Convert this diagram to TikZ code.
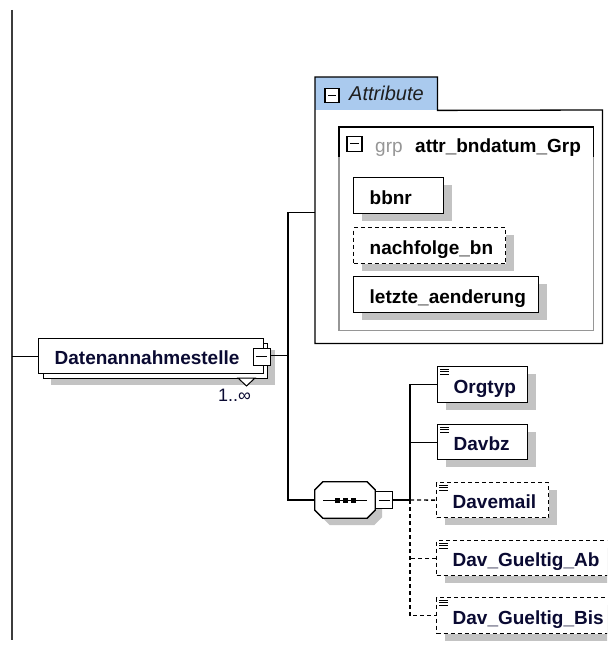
\documentclass[tikz,border=0pt]{standalone}
\usepackage{fontspec}
\setmainfont{Liberation Sans}
\usetikzlibrary{shadows,calc}
\hyphenpenalty=10000
\exhyphenpenalty=10000
\definecolor{shadowgray}{RGB}{195,195,195}
\definecolor{tabblue}{RGB}{170,202,238}
\definecolor{elemtext}{RGB}{10,10,50}
\definecolor{grpgray}{RGB}{150,150,150}
\definecolor{innergray}{RGB}{150,150,150}
\definecolor{railgray}{RGB}{60,60,60}
\newcommand\txticon[1]{%
  \draw[line width=0.9pt] ([xshift=3pt,yshift=-3pt]#1.north west) -- ++(9pt,0pt);
  \draw[line width=0.9pt] ([xshift=3pt,yshift=-5.5pt]#1.north west) -- ++(9pt,0pt);
  \draw[line width=0.9pt] ([xshift=3pt,yshift=-8pt]#1.north west) -- ++(9pt,0pt);}
\begin{document}
\begin{tikzpicture}[x=1pt,y=-1pt,
  namefont/.style={font=\bfseries\fontsize{19}{22}\selectfont},
  shad/.style={drop shadow={shadow xshift=8pt,shadow yshift=-7pt,fill=shadowgray,opacity=1}},
  base/.style={draw=black,line width=1.3pt,fill=white,inner sep=0pt,anchor=north west,minimum height=36pt,
    namefont,text width=#1,align=left,text height=18pt,text depth=0.5pt,execute at begin node={\hspace*{16pt}}},
  elem/.style={base=#1,shad,text=elemtext},
  optelem/.style={elem=#1,dash pattern=on 4pt off 3pt},
  attrbox/.style={base=#1,shad,text=black},
  optattr/.style={attrbox=#1,dash pattern=on 4pt off 3pt},
  conn/.style={line width=1.3pt,draw=black},
  optconn/.style={conn,dash pattern=on 4pt off 3pt},
  minusbox/.style={draw=black,line width=1pt,fill=white,minimum size=#1,inner sep=0pt,
    path picture={\draw[line width=1pt] ([xshift=3pt]path picture bounding box.west) -- ([xshift=-3pt]path picture bounding box.east);}},
  minusbox/.default=17pt]
\useasboundingbox (0,0) rectangle (607,647);
\clip (0,0) rectangle (607,647);
% left rail
\coordinate (railtop) at (12,10);
\coordinate (railbot) at (12,640);
\draw[line width=1.4pt,railgray] (railtop) -- (railbot);
% Datenannahmestelle (multiple element)
\fill[shadowgray] (51,350) rectangle (275,385);
\node[draw=black,line width=1.3pt,fill=white,inner sep=0pt,anchor=north west,minimum width=224pt,minimum height=35pt] (dback) at (43,343) {};
\node[base=225pt,text=elemtext,minimum height=35pt,text height=17pt] (dan) at (38,338) {Datenannahmestelle};
\node[minusbox] (dmin) at (261.5,356.5) {};
\draw[line width=1pt,fill=white] (238,378) -- (255,378) -- (246.5,386) -- cycle;
\node[anchor=base west,inner sep=0pt,text=elemtext,font=\fontsize{18}{20}\selectfont] (dmult) at (218,401) {1..∞};
\coordinate (railjoin) at (railtop |- dan.west);
\draw[conn] (railjoin) -- (dan.west);
% main junction
\coordinate (j1) at (288,355.5);
\draw[conn] (dmin.east |- j1) -- (j1);
% Attribute container
\node[draw=none,fill=white,inner sep=0pt,anchor=north west,minimum width=287pt,minimum height=233pt] (attr) at (315,110) {};
\node[draw=none,fill=tabblue,inner sep=0pt,anchor=north west,minimum width=122pt,minimum height=33pt] (tab) at (315,77) {};
\draw[line width=1.3pt] (tab.south west) -- (tab.north west) -- (tab.north east) -- (tab.south east) -- (attr.north east) -- (attr.south east) -- (attr.south west) -- cycle;
\node[minusbox=14pt,line width=1.2pt] (tabmin) at (332,95.5) {};
\node[anchor=base west,inner sep=0pt,text={rgb,255:red,30;green,30;blue,30},font=\itshape\fontsize{20}{22}\selectfont] (tabtxt) at (349,101) {Attribute};
% group
\node[draw=none,inner sep=0pt,anchor=north west,minimum width=254pt,minimum height=203pt] (grp) at (339,127) {};
\draw[line width=1.2pt,innergray] ([yshift=-30pt]grp.north west) -- (grp.south west) -- (grp.south east) -- ([yshift=-30pt]grp.north east);
\draw[line width=1.2pt] ([yshift=-30pt]grp.north west) -- (grp.north west) -- (grp.north east) -- ([yshift=-30pt]grp.north east);
\node[minusbox=15pt,line width=1.2pt] (grpmin) at (354.5,144) {};
\node[anchor=base west,inner sep=0pt,text=grpgray,font=\fontsize{19}{22}\selectfont] (grpkw) at (375,153) {grp};
\node[anchor=base west,inner sep=0pt,text=black,font=\bfseries\fontsize{19}{22}\selectfont] (grpname) at (415,153) {attr\_bndatum\_Grp};
\node[attrbox=90pt] (bbnr) at (353,177) {bbnr};
\node[optattr=152pt] (nachf) at (353,227) {nachfolge\_bn};
\node[attrbox=185pt] (letzte) at (353,276) {letzte\_aenderung};
\draw[conn] ([yshift=14.5pt]attr.west) -| (j1);
% sequence
\node[draw=none,inner sep=0pt,minimum width=60pt,minimum height=36pt] (seq) at (345,500) {};
\draw[line width=1.3pt,fill=white,drop shadow={shadow xshift=7pt,shadow yshift=-7pt,fill=shadowgray,opacity=1}]
  ([xshift=8pt]seq.north west) -- ([xshift=-8pt]seq.north east) -- ([yshift=-8pt]seq.north east)
  -- ([yshift=8pt]seq.south east) -- ([xshift=-8pt]seq.south east) -- ([xshift=8pt]seq.south west)
  -- ([yshift=8pt]seq.south west) -- ([yshift=-8pt]seq.north west) -- cycle;
\draw[line width=1pt] ([xshift=-22pt]seq.center) -- ([xshift=22pt]seq.center);
\foreach \dx in {-8,0,8}{\fill ([xshift=\dx pt]seq.center) ++(-2.5,-2.5) rectangle ++(5,5);}
\node[minusbox,anchor=west] (smin) at (seq.east) {};
\draw[conn] (j1) |- (seq.west);
\coordinate (j2) at (410,500);
\draw[conn] (smin.east) -- (j2);
% child elements
\node[elem=90pt] (orgtyp) at (437,366) {Orgtyp};
\node[elem=90pt,minimum height=35pt] (davbz) at (437,424) {Davbz};
\node[optelem=112pt,minimum height=35pt] (davemail) at (436,482) {Davemail};
\node[optelem=178pt,minimum height=35pt] (dab) at (436,540) {Dav\_Gueltig\_Ab};
\node[optelem=178pt] (dbis) at (436,597) {Dav\_Gueltig\_Bis};
\txticon{orgtyp}
\txticon{davbz}
\txticon{davemail}
\txticon{dab}
\txticon{dbis}
\draw[conn] (orgtyp.west) -| (j2);
\draw[conn] (davbz.west) -- (davbz.west -| j2);
\draw[optconn] (j2) -- (davemail.west);
\draw[optconn] (j2) |- (dbis.west);
\draw[optconn] (dab.west) -- (dab.west -| j2);
\end{tikzpicture}
\end{document}
